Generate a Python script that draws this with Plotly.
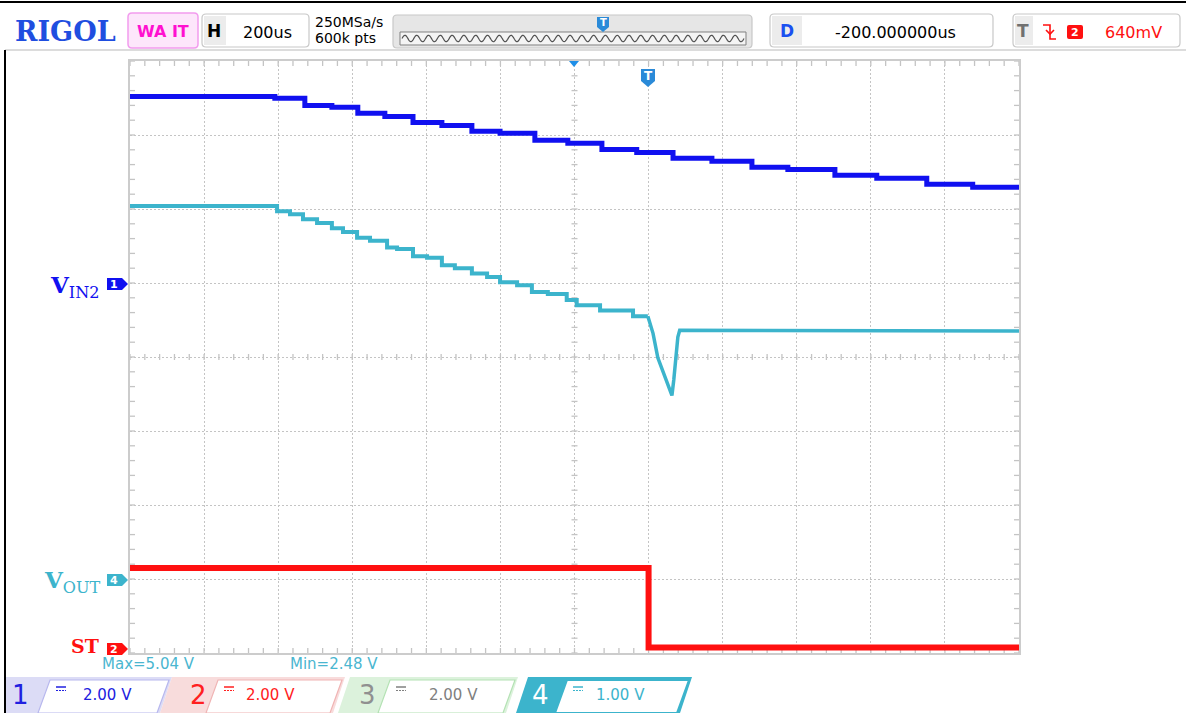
import numpy as np
import plotly.graph_objects as go

# ---------------- scope settings ----------------
time_per_div = 200          # us / div
x_range = [-1400, 1000]     # us (delay -200 us, 12 divisions)
n_ydiv = 8
ch1_scale, ch1_pos = 2.0, 1.0    # V/div, ground position (div)
ch2_scale, ch2_pos = 2.0, -4.0
ch4_scale, ch4_pos = 1.0, -3.0

# ---------------- waveform data ----------------
# VIN2 (CH1, blue) - stair steps: level start time (us), level (V)
vin_t = [-1400, -1009, -928, -855, -785, -712, -636, -558, -477, -401, -307, -218,
         -126, -32, 66, 171, 279, 376, 503, 616, 751, 875, 1000]
vin_v = [5.04, 4.99, 4.80, 4.75, 4.59, 4.50, 4.34, 4.26, 4.10, 4.05, 3.86, 3.78,
         3.61, 3.53, 3.37, 3.29, 3.13, 3.07, 2.91, 2.83, 2.67, 2.59, 2.59]

# VOUT (CH4, cyan) - ramp steps before trigger
vout_ramp_t = [-1400, -1003, -968, -933, -895, -855, -825, -787, -752, -706, -679, -636,
               -598, -558, -523, -477, -436, -401, -355, -315, -272, -221, -194, -131, -42, -2]
vout_ramp_v = [5.04, 4.97, 4.93, 4.86, 4.81, 4.74, 4.69, 4.61, 4.57, 4.48, 4.46, 4.36,
               4.34, 4.24, 4.20, 4.13, 4.08, 4.01, 3.97, 3.88, 3.85, 3.77, 3.70, 3.63, 3.55, 3.55]
# VOUT dip after trigger
vout_dip_t = [-2, 12, 25, 44, 57, 63, 68, 74, 79, 84, 1000]
vout_dip_v = [3.55, 3.32, 2.99, 2.73, 2.58, 2.48, 2.69, 3.07, 3.27, 3.36, 3.35]

# ST (CH2, red)
st_t = [-1400, 0, 0, 1000]
st_v = [2.30, 2.30, 0.15, 0.15]

meas_max = "Max=5.04 V"
meas_min = "Min=2.48 V"

BLUE = "#1010f0"
CYAN = "#3cb4cc"
RED = "#ff1010"


def to_div(v, scale, pos):
    return [x / scale + pos for x in v]


# ---------------- pixel helpers for the screen furniture ----------------
L, R, T, B = 130, 1019, 61, 653
W, H = 1186, 713


def fx(x):
    return (x - L) / (R - L)


def fy(y):
    return (B - y) / (B - T)


shapes = []
annots = []


def poly(points, fill=None, line=None, width=1, close=True, dash=None):
    p = "M " + " L ".join(f"{fx(x):.5f},{fy(y):.5f}" for x, y in points)
    if close:
        p += " Z"
    ln = dict(color=line if line else "rgba(0,0,0,0)", width=width if line else 0)
    if dash:
        ln["dash"] = dash
    shapes.append(dict(type="path", xref="paper", yref="paper", path=p,
                       fillcolor=fill if fill else "rgba(0,0,0,0)", line=ln, layer="above"))


def rrect(x0, y0, x1, y1, r, fill=None, line=None, width=1):
    def P(x, y):
        return f"{fx(x):.5f},{fy(y):.5f}"
    p = (f"M {P(x0 + r, y0)} L {P(x1 - r, y0)} Q {P(x1, y0)} {P(x1, y0 + r)} "
         f"L {P(x1, y1 - r)} Q {P(x1, y1)} {P(x1 - r, y1)} L {P(x0 + r, y1)} "
         f"Q {P(x0, y1)} {P(x0, y1 - r)} L {P(x0, y0 + r)} Q {P(x0, y0)} {P(x0 + r, y0)} Z")
    shapes.append(dict(type="path", xref="paper", yref="paper", path=p,
                       fillcolor=fill if fill else "rgba(0,0,0,0)",
                       line=dict(color=line if line else "rgba(0,0,0,0)", width=width if line else 0),
                       layer="above"))


def text(x, y, s, size=14, color="black", family="DejaVu Sans", anchor="center"):
    annots.append(dict(x=fx(x), y=fy(y), xref="paper", yref="paper", text=s, showarrow=False,
                       xanchor=anchor, yanchor="middle",
                       font=dict(size=size, color=color, family=family)))


# ---------------- figure ----------------
fig = go.Figure()

# minor ticks on the border and centre lines (decoration)
tx, ty = [], []
ux = (x_range[1] - x_range[0]) / (R - L)   # us per pixel
uy = n_ydiv / (B - T)                       # div per pixel
xt = np.arange(x_range[0], x_range[1] + 1e-6, time_per_div / 5)
yt = np.arange(-4, 4 + 1e-6, 0.2)
for x in xt:
    for (y0, y1) in [(4, 4 - 5 * uy), (-4, -4 + 5 * uy), (-3 * uy, 3 * uy)]:
        tx += [x, x, None]
        ty += [y0, y1, None]
for y in yt:
    for (x0, x1) in [(x_range[0], x_range[0] + 5 * ux), (x_range[1], x_range[1] - 5 * ux),
                     (-200 - 3 * ux, -200 + 3 * ux)]:
        tx += [x0, x1, None]
        ty += [y, y, None]
fig.add_trace(go.Scatter(x=tx, y=ty, mode="lines", line=dict(color="#c4c4c4", width=1.3),
                         hoverinfo="skip", showlegend=False))

fig.add_trace(go.Scatter(x=vin_t, y=to_div(vin_v, ch1_scale, ch1_pos), mode="lines",
                         line=dict(color=BLUE, width=5, shape="hv"), showlegend=False))
fig.add_trace(go.Scatter(x=vout_ramp_t, y=to_div(vout_ramp_v, ch4_scale, ch4_pos), mode="lines",
                         line=dict(color=CYAN, width=4, shape="hv"), showlegend=False))
fig.add_trace(go.Scatter(x=vout_dip_t, y=to_div(vout_dip_v, ch4_scale, ch4_pos), mode="lines",
                         line=dict(color=CYAN, width=3.5), showlegend=False))
fig.add_trace(go.Scatter(x=st_t, y=to_div(st_v, ch2_scale, ch2_pos), mode="lines",
                         line=dict(color=RED, width=6), showlegend=False))

# ---------------- header ----------------
shapes.append(dict(type="line", xref="paper", yref="paper", x0=fx(0), x1=fx(W), y0=fy(2), y1=fy(2),
                   line=dict(color="black", width=2), layer="above"))
shapes.append(dict(type="line", xref="paper", yref="paper", x0=fx(5), x1=fx(W), y0=fy(50), y1=fy(50),
                   line=dict(color="#d0d0d0", width=1.5), layer="above"))
shapes.append(dict(type="line", xref="paper", yref="paper", x0=fx(5), x1=fx(5), y0=fy(50), y1=fy(W),
                   line=dict(color="black", width=2), layer="above"))

text(65, 31, "<b>RIGOL</b>", 27, "#1f4ee0", "DejaVu Serif")
rrect(128, 13, 198, 48, 4, fill="#fde6fb", line="#f29cee", width=1.5)
text(163, 31, "<b>WA IT</b>", 16, "#ff10d0", "DejaVu Sans")
rrect(202, 14, 309, 47, 4, fill="white", line="#c8c8c8", width=1.2)
poly([(204, 16), (226, 16), (226, 45), (204, 45)], fill="#ececec")
text(214, 31, "<b>H</b>", 17, "black", "DejaVu Sans")
text(267, 32, "200us", 16, "black")
text(313, 22, "250MSa/s", 14, "black", anchor="left")
text(313, 38, "600k pts", 14, "black", anchor="left")

rrect(393, 15, 752, 48, 4, fill="#e6e6e6", line="#c8c8c8", width=1.2)
poly([(400, 32), (746, 32), (746, 45), (400, 45)], fill="#f4f4f4", line="#808080", width=1)
wx = np.linspace(402, 744, 600)
wy = 38.5 - 3.2 * np.sin((wx - 402) / (744 - 402) * 29 * 2 * np.pi)
poly(list(zip(wx, wy)), line="#505050", width=1.2, close=False)
# trigger marker in memory bar
poly([(597, 17), (609, 17), (609, 27), (603, 32), (597, 27)], fill="#2a8ad8")
text(603, 23, "<b>T</b>", 10, "white")

rrect(770, 14, 993, 47, 4, fill="white", line="#c8c8c8", width=1.2)
poly([(772, 16), (802, 16), (802, 45), (772, 45)], fill="#ececec")
text(787, 31, "<b>D</b>", 17, "#1a50f0", "DejaVu Sans")
text(895, 32, "-200.000000us", 16, "black")

rrect(1013, 14, 1180, 47, 4, fill="white", line="#c8c8c8", width=1.2)
poly([(1015, 16), (1033, 16), (1033, 45), (1015, 45)], fill="#ececec")
text(1023, 31, "<b>T</b>", 17, "#707070", "DejaVu Sans")
poly([(1043, 25), (1050, 25), (1050, 39), (1056, 39)], line=RED, width=1.6, close=False)
poly([(1046, 30), (1050, 34), (1054, 30)], line=RED, width=1.6, close=False)
rrect(1067, 25, 1083, 39, 2, fill=RED)
text(1075, 32, "<b>2</b>", 11, "white")
text(1133, 32, "640mV", 16, RED)

# ---------------- markers on the graticule ----------------
poly([(569, 61), (579, 61), (574, 67)], fill="#1f8fe8")
poly([(641, 69), (655, 69), (655, 81), (648, 87), (641, 81)], fill="#2a8ad8")
text(648, 76, "<b>T</b>", 12, "white")

# channel ground markers + labels
for yc, col, lab in [(284, BLUE, "1"), (580, CYAN, "4"), (649, RED, "2")]:
    poly([(107, yc - 6), (122, yc - 6), (128, yc), (122, yc + 6), (107, yc + 6)], fill=col)
    text(114, yc, "<b>" + lab + "</b>", 11, "white")
text(102, 286, "<b>V</b><sub>IN2</sub>", 23, BLUE, "DejaVu Serif", anchor="right")
text(103, 581, "<b>V</b><sub>OUT</sub>", 23, CYAN, "DejaVu Serif", anchor="right")
text(101, 646, "<b>ST</b>", 19, RED, "DejaVu Serif", anchor="right")

# measurements
text(148, 664, meas_max, 15, "#4ab6d0")
text(334, 664, meas_min, 15, "#4ab6d0")

# ---------------- bottom channel bar ----------------
chan = [
    # block top-left, block top-right, inner top-left, number x, value x, fill, border, num colour, val colour, value
    (6, 172, 50, 20, 107, "#dcdcf6", "#b8b8ee", "#2020e0", "#2020e0", "1", "2.00 V"),
    (172, 345, 218, 198, 270, "#f8dcdc", "#f0b4b4", "#ff2020", "#ff2020", "2", "2.00 V"),
    (350, 518, 390, 367, 453, "#dcf2dc", "#b4e2b4", "#909090", "#808080", "3", "2.00 V"),
    (528, 692, 567, 540, 620, CYAN, CYAN, "white", CYAN, "4", "1.00 V"),
]
for bl, br, il, nx, vx, fill, border, ncol, vcol, num, val in chan:
    s = 12
    left_bot = bl - s if bl > 10 else bl
    poly([(bl, 677), (br, 677), (br - s, 713), (left_bot, 713)], fill=fill)
    poly([(il, 680), (br - 3, 680), (br - 3 - s, 713), (il - s, 713)], fill="white",
         line=border, width=2 if num == "4" else 1.2)
    text(nx, 695, num, 26, ncol)
    icx = il + 6
    shapes.append(dict(type="line", xref="paper", yref="paper", x0=fx(icx), x1=fx(icx + 10),
                       y0=fy(687), y1=fy(687), line=dict(color=vcol, width=1.5), layer="above"))
    shapes.append(dict(type="line", xref="paper", yref="paper", x0=fx(icx), x1=fx(icx + 10),
                       y0=fy(690.5), y1=fy(690.5), line=dict(color=vcol, width=1.2, dash="2px,1px"),
                       layer="above"))
    text(vx, 695, val, 15, vcol)

fig.update_layout(
    width=W, height=H,
    margin=dict(l=L, r=W - R, t=T, b=H - B),
    paper_bgcolor="white", plot_bgcolor="white",
    showlegend=False,
    shapes=shapes, annotations=annots,
    xaxis=dict(range=x_range, tick0=x_range[0], dtick=time_per_div, showgrid=True,
               gridcolor="#c4c4c4", griddash="2px,2px", gridwidth=1, zeroline=False,
               showticklabels=False, ticks="", showline=True, mirror=True,
               linecolor="#cccccc", linewidth=1.5, fixedrange=True),
    yaxis=dict(range=[-4, 4], tick0=-4, dtick=1, showgrid=True,
               gridcolor="#c4c4c4", griddash="2px,2px", gridwidth=1, zeroline=False,
               showticklabels=False, ticks="", showline=True, mirror=True,
               linecolor="#cccccc", linewidth=1.5, fixedrange=True),
)

fig.write_html("out.html", config={"displayModeBar": False},
               post_script="document.body.style.margin='0px';document.body.style.overflow='hidden';")
